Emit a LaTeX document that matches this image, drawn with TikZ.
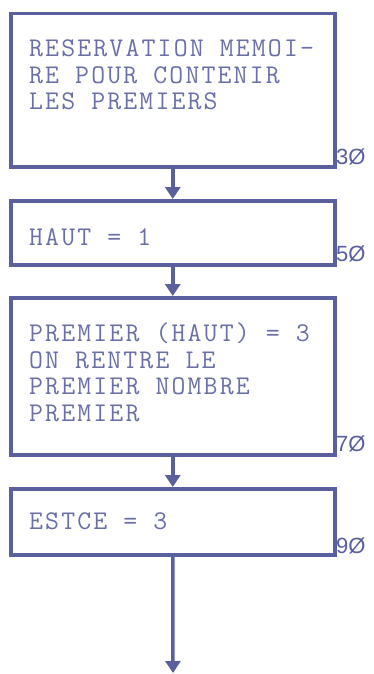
\documentclass[tikz,border=0pt]{standalone}
\usepackage{fontspec}
\setmonofont{Latin Modern Mono}[LetterSpace=8]
\setsansfont{Liberation Sans}
\usetikzlibrary{arrows.meta}
\definecolor{ink}{HTML}{5A5F9E}
\definecolor{txt}{HTML}{6A6FA8}
\tikzset{
  box/.style={draw=ink, line width=3.5pt, rectangle, inner sep=0pt, minimum width=324pt, anchor=north west},
  btext/.style={anchor=base west, inner sep=0pt, text=txt, font=\ttfamily\fontsize{27}{26.5}\selectfont, align=left},
  lbl/.style={anchor=base west, inner sep=0pt, text=ink, font=\sffamily\fontsize{22}{22}\selectfont},
  flow/.style={draw=ink, line width=3.5pt, -{Triangle[width=15pt,length=12pt]}}
}
\begin{document}
\begin{tikzpicture}[x=1pt,y=-1pt]
\useasboundingbox (0,0) rectangle (373,674);
\node[box, minimum height=153pt] (b1) at (9,12) {};
\node[box, minimum height=64pt] (b2) at (9,199) {};
\node[box, minimum height=157pt] (b3) at (9,296) {};
\node[box, minimum height=66pt] (b4) at (9,487) {};
\node[btext] (t1) at (29,110) {RESERVATION MEMOI-\\RE POUR CONTENIR\\LES PREMIERS};
\node[btext] (t2) at (29,245) {HAUT = 1};
\node[btext] (t3) at (29,421) {PREMIER (HAUT) = 3\\ON RENTRE LE\\PREMIER NOMBRE\\PREMIER};
\node[btext] (t4) at (29,529) {ESTCE = 3};
\node[lbl] (l1) at (336,164) {3Ø};
\node[lbl] (l2) at (336,261) {5Ø};
\node[lbl] (l3) at (336,451) {7Ø};
\node[lbl] (l4) at (336,553) {9Ø};
\coordinate (end) at (173,673);
\draw[flow] (b1.south) -- (b2.north);
\draw[flow] (b2.south) -- (b3.north);
\draw[flow] (b3.south) -- (b4.north);
\draw[flow] (b4.south) -- (end);
\end{tikzpicture}
\end{document}
